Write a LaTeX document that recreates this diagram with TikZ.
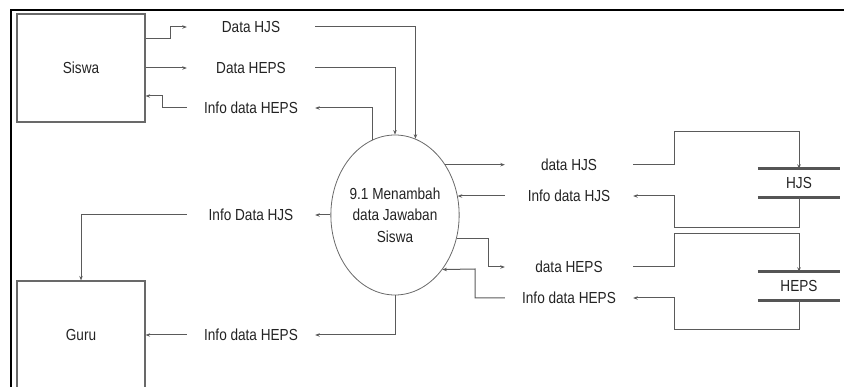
\documentclass[tikz,border=0pt]{standalone}
\usepackage{fontspec}
\setmainfont{Liberation Sans}[FakeStretch=0.85]
\usetikzlibrary{arrows.meta,shapes.geometric}
\definecolor{flowgray}{RGB}{90,90,90}
\definecolor{boxgray}{RGB}{105,105,105}
\definecolor{storegray}{RGB}{85,85,85}
\definecolor{txtgray}{RGB}{35,35,35}
\begin{document}
\begin{tikzpicture}[x=1pt,y=-1pt,
  font=\fontsize{16}{21.5}\selectfont,
  flow/.style={draw=flowgray, line width=1pt, -{Stealth[length=4.5pt,width=3.5pt]}},
  entity/.style={draw=boxgray, line width=1.2pt, minimum width=128pt, minimum height=108pt, inner sep=0pt, text=txtgray},
  proc/.style={ellipse, draw=boxgray, line width=0.8pt, minimum width=126pt, minimum height=160pt, inner sep=0pt, align=center, text=txtgray},
  lbl/.style={minimum width=128pt, minimum height=16pt, inner sep=0pt, text=txtgray},
  datastore/.style={minimum width=82pt, minimum height=28pt, inner sep=0pt, text=txtgray},
  storeline/.style={draw=storegray, line width=3pt},
  frame/.style={draw=black, line width=2.2pt},
]
\useasboundingbox (0,0) rectangle (844,387);
\draw[frame] (11,388) -- (11,10) -- (845,10);

% entities
\node[entity] (siswa) at (81,68) {Siswa};
\node[entity] (guru) at (81,335) {Guru};

% process
\node[proc] (p) at (395,215) {9.1 Menambah\\data Jawaban\\Siswa};

% data stores
\node[datastore] (hjs) at (799,183) {HJS};
\node[datastore] (heps) at (799,286) {HEPS};
\draw[storeline] (hjs.north west) -- (hjs.north east);
\draw[storeline] (hjs.south west) -- (hjs.south east);
\draw[storeline] (heps.north west) -- (heps.north east);
\draw[storeline] (heps.south west) -- (heps.south east);

% left labels
\node[lbl] (l1) at (251,27) {Data HJS};
\node[lbl] (l2) at (251,68) {Data HEPS};
\node[lbl] (l3) at (251,108) {Info data HEPS};
\node[lbl] (l4) at (251,215) {Info Data HJS};
\node[lbl] (l5) at (251,335) {Info data HEPS};

% right labels
\node[lbl] (r1) at (569,165) {data HJS};
\node[lbl] (r2) at (569,196) {Info data HJS};
\node[lbl] (r3) at (569,267) {data HEPS};
\node[lbl] (r4) at (569,298) {Info data HEPS};

% Siswa flows
\draw[flow] (siswa.east |- 0,39) -| (170,27) -- (l1.west);
\draw[flow] (l1.east) -| (p.75);
\draw[flow] (siswa.east) -- (l2.west);
\draw[flow] (l2.east) -| (p.north);
\draw[flow] (p.107) |- (l3.east);
\draw[flow] (l3.west) -| (162,96) -- (siswa.east |- 0,96);

% Guru flows
\draw[flow] (p.west) -- (l4.east);
\draw[flow] (l4.west) -| (guru.north);
\draw[flow] (p.south) |- (l5.east);
\draw[flow] (l5.west) -- (l5.west -| guru.east);

% HJS store flows
\draw[flow] (p.45) -- (p.45 -| r1.west);
\draw[flow] (r1.east) -| (674,132) -| (hjs.north);
\draw[flow] (hjs.south) |- (674,228) |- (r2.east);
\draw[flow] (r2.west) -- (r2.west -| p.17);

% HEPS store flows
\draw[flow] (p.-21) -| (488,267) -- (r3.west);
\draw[flow] (r3.east) -| (674,234) -| (heps.north);
\draw[flow] (heps.south) |- (674,330) |- (r4.east);
\draw[flow] (r4.west) -| (475,269) -- (p.-49);
\end{tikzpicture}
\end{document}
